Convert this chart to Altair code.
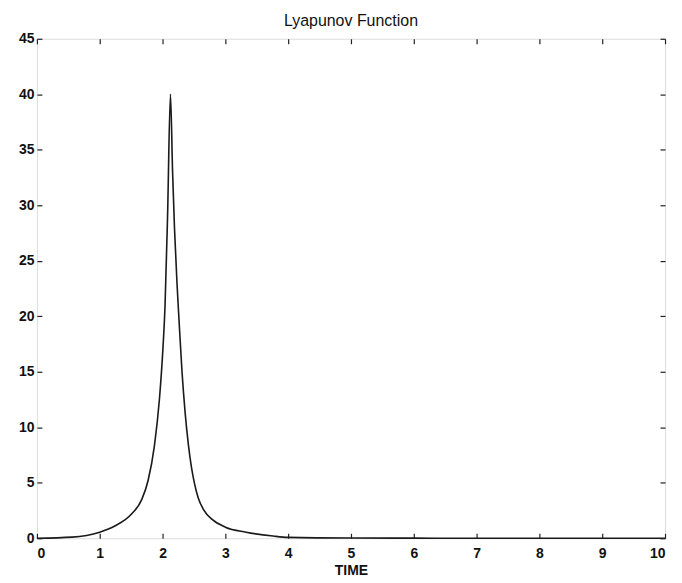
import altair as alt
import pandas as pd

time = [0, 0.56, 1.0, 1.24, 1.51, 1.67, 1.77, 1.87, 1.95, 2.0, 2.04, 2.08, 2.126,
        2.16, 2.19, 2.23, 2.26, 2.31, 2.36, 2.41, 2.46, 2.51, 2.57, 2.65, 2.8, 3.0,
        3.33, 3.76, 4.0, 5, 6, 7, 8, 9, 10]
value = [0, 0.1, 0.55, 1.1, 2.2, 3.5, 5.2, 8.3, 12.5, 16.5, 21, 29, 40,
         33, 28, 23, 19.9, 15, 11.3, 8.5, 6.4, 4.9, 3.6, 2.6, 1.65, 1.0,
         0.55, 0.2, 0.08, 0.02, 0.01, 0, 0, 0, 0]
x_ticks = list(range(0, 11))
y_ticks = list(range(0, 46, 5))

df = pd.DataFrame({"TIME": time, "V": value})

W, H = 630, 501
FONT = "Liberation Sans"
TICK = 5
xs = alt.Scale(domain=[0, 10], nice=False, zero=False)
ys = alt.Scale(domain=[0, 45], nice=False, zero=False)

base = alt.Chart(df)

main = base.mark_line(color="#1a1a1a", strokeWidth=1.6, interpolate="monotone").encode(
    x=alt.X("TIME:Q", scale=xs,
            axis=alt.Axis(values=x_ticks, title="TIME", ticks=False, domain=False,
                          labelPadding=8, labelFontSize=14, labelFont=FONT,
                          labelFontWeight="bold", labelColor="#111",
                          titleFont=FONT, titleFontSize=14, titleFontWeight="bold",
                          titleColor="#111", titlePadding=3, grid=False)),
    y=alt.Y("V:Q", scale=ys,
            axis=alt.Axis(values=y_ticks, title=None, ticks=False, domain=False,
                          labelPadding=3, labelFontSize=14, labelFont=FONT,
                          labelFontWeight="bold", labelColor="#111", grid=False)),
)

inner1 = base.mark_line(opacity=0).encode(
    x=alt.X("TIME:Q", scale=xs,
            axis=alt.Axis(values=x_ticks, orient="top", offset=-H, labels=False, title=None,
                          domain=False, ticks=True, tickSize=TICK, tickColor="#222",
                          tickWidth=1.2, grid=False)),
    y=alt.Y("V:Q", scale=ys,
            axis=alt.Axis(values=y_ticks, orient="right", offset=-W, labels=False, title=None,
                          domain=False, ticks=True, tickSize=TICK, tickColor="#222",
                          tickWidth=1.2, grid=False)),
)

inner2 = base.mark_line(opacity=0).encode(
    x=alt.X("TIME:Q", scale=xs,
            axis=alt.Axis(values=x_ticks, orient="bottom", offset=-H, labels=False, title=None,
                          domain=False, ticks=True, tickSize=TICK, tickColor="#222",
                          tickWidth=1.2, grid=False)),
    y=alt.Y("V:Q", scale=ys,
            axis=alt.Axis(values=y_ticks, orient="left", offset=-W, labels=False, title=None,
                          domain=False, ticks=True, tickSize=TICK, tickColor="#222",
                          tickWidth=1.2, grid=False)),
)

chart = alt.layer(main, inner1, inner2).resolve_axis(
    x="independent", y="independent"
).properties(
    width=W, height=H,
    title=alt.Title("Lyapunov Function", font=FONT, fontSize=16, fontWeight="normal",
                    color="#111", offset=3),
    padding={"left": 10, "top": 4, "right": 5, "bottom": 5},
).configure_view(stroke="#222", strokeWidth=1.5).configure(background="white")

chart.save("out.html", embed_options={"renderer": "svg", "actions": False})
